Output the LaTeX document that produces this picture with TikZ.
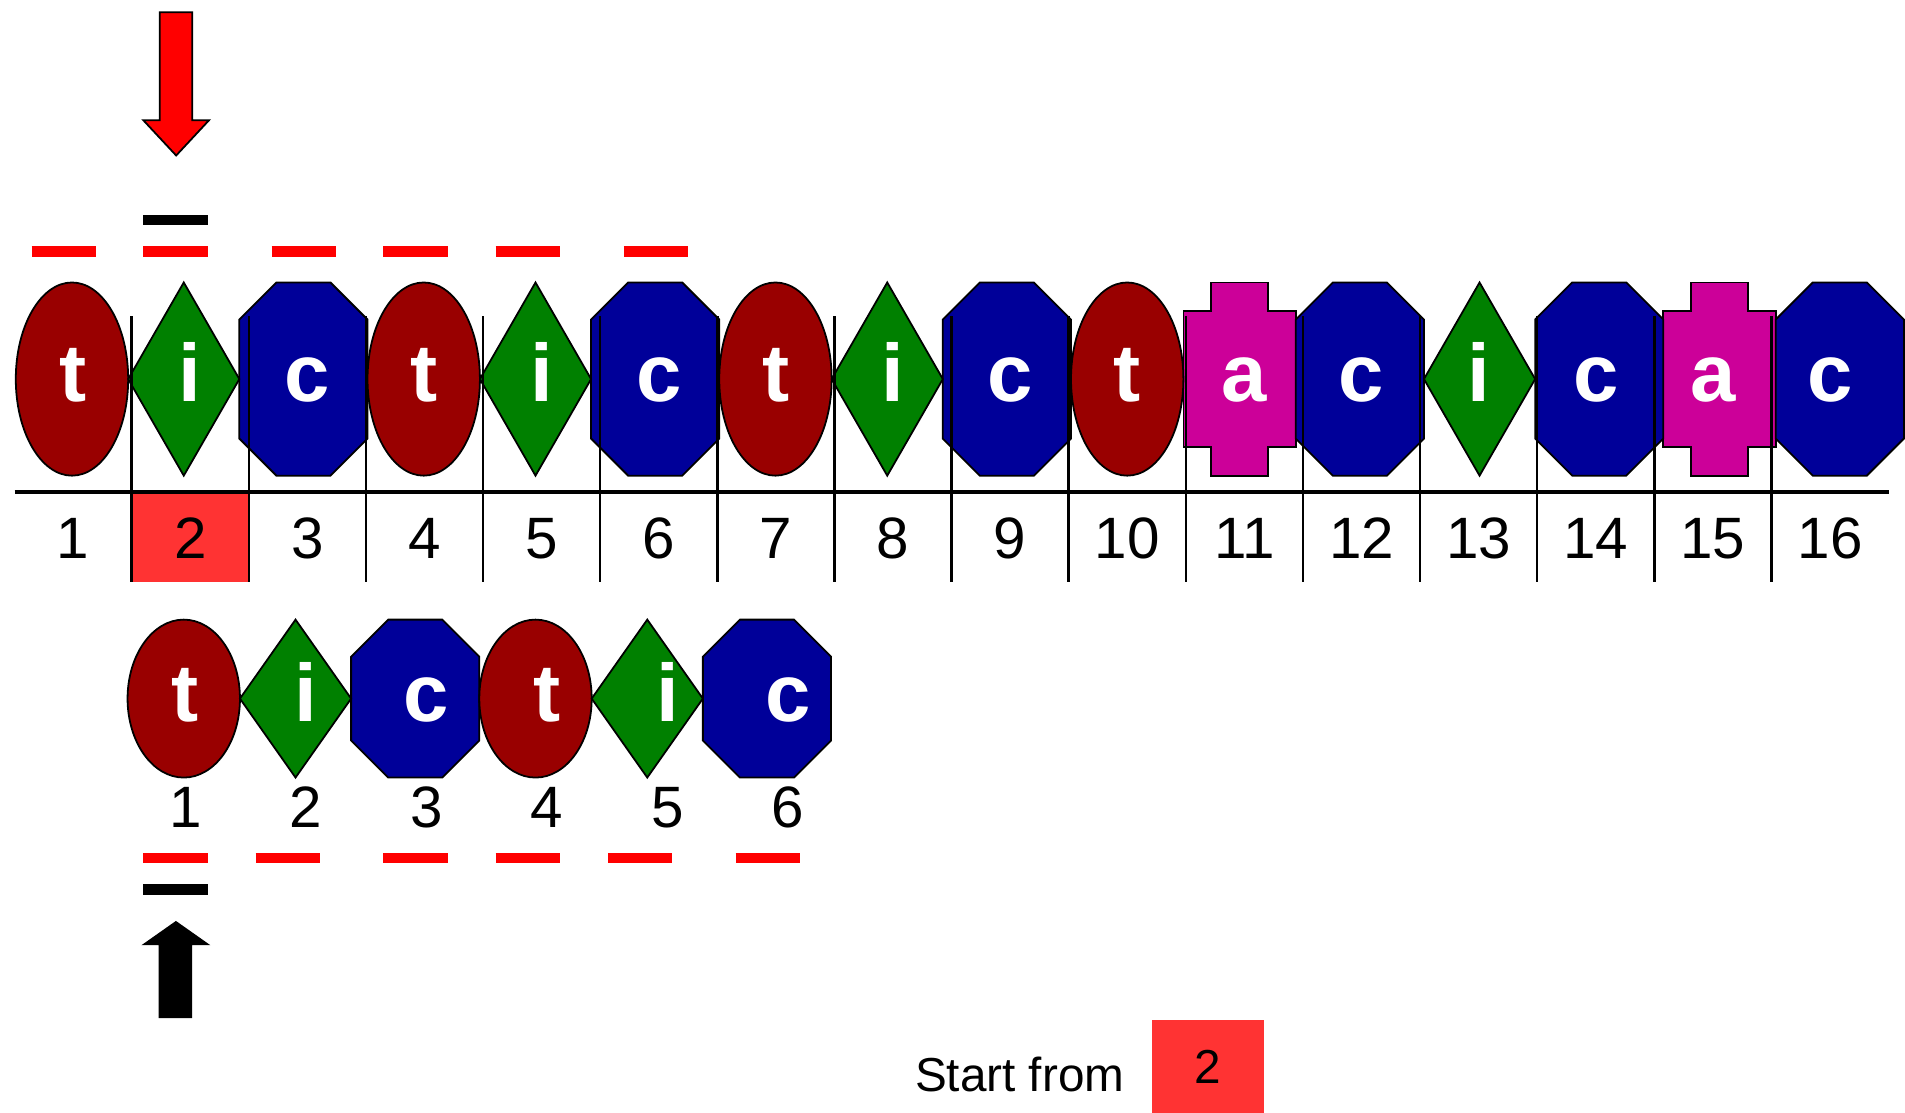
\documentclass[tikz,border=0pt]{standalone}
\usepackage{fontspec}
\setmainfont{Liberation Sans}
\usetikzlibrary{positioning,shapes.geometric,backgrounds}
\definecolor{tred}{RGB}{153,0,0}
\definecolor{igreen}{RGB}{0,128,0}
\definecolor{cblue}{RGB}{0,0,153}
\definecolor{amag}{RGB}{204,0,153}
\definecolor{cellred}{RGB}{255,51,51}

\begin{document}
\begin{tikzpicture}[x=0.12mm,y=-0.12mm,
   glyph/.style={draw,line width=0.5pt,inner sep=0pt,outer sep=0pt},
   tee/.style={glyph,ellipse,fill=tred,minimum width=11.1mm},
   eye/.style={glyph,diamond,fill=igreen,minimum width=10.98mm},
   cee/.style={glyph,draw=none,rectangle,minimum width=12.66mm},
   ay/.style={glyph,draw=none,rectangle,minimum width=11.1mm,minimum height=13.46mm},
   octc/.style={draw,line width=0.5pt,fill=cblue},
   crossa/.style={draw,line width=0.5pt,fill=amag},
   ltr/.style={inner sep=0pt,text=white,font=\fontsize{22.9}{24}\selectfont\bfseries,
               text height=12.8pt,text depth=0pt},
   cell/.style={rectangle,inner sep=0pt,outer sep=0pt,minimum width=11.568mm,minimum height=8.88mm,
                font=\fontsize{16.4}{18}\selectfont,text height=11.8pt,text depth=0pt},
   numlbl/.style={inner sep=0pt,font=\fontsize{16.4}{18}\selectfont},
   reddash/.style={draw=red,line width=1.02mm},
   blackdash/.style={draw=black,line width=1.02mm}]
  \useasboundingbox (0,0) rectangle (1568,916);

  % number strip
  \coordinate (n0) at (12,442);
  \foreach \k [remember=\k as \j (initially 0)] in {1,...,16}
    \node[cell,right=0pt of n\j] (n\k) {\k};
  \fill[cellred] (n2.north west) rectangle (n2.south east);
  \node[cell] at (n2) {2};

  % sequence
  \coordinate (s0) at (13,312);
  \foreach \shp [count=\k,remember=\k as \j (initially 0)] in
     {tee,eye,cee,tee,eye,cee,tee,eye,cee,tee,ay,cee,eye,cee,ay,cee}
    \node[minimum height=19.08mm,\shp,right=0pt of s\j] (s\k) {};

  % pattern
  \coordinate (b0) at (105,575);
  \foreach \shp [count=\k,remember=\k as \j (initially 0)] in {tee,eye,cee,tee,eye,cee}
    \node[minimum height=15.6mm,\shp,right=0pt of b\j] (b\k) {};

  \begin{scope}[on background layer]
    \foreach \k in {11,15}
      \draw[crossa] (s\k.north west) -- ++(22.75,0) -- ++(0,-23.4) -- ++(47,0) -- ++(0,23.4)
        -- (s\k.north east) -- (s\k.south east) -- ++(-22.75,0) -- ++(0,23.4) -- ++(-47,0)
        -- ++(0,-23.4) -- (s\k.south west) -- cycle;
    \foreach \o in {s3,s6,s9,s12,s14,s16,b3,b6}
      \draw[octc] ([xshift=3.66mm]\o.north west) -- ([xshift=-3.66mm]\o.north east)
        -- ([yshift=-3.66mm]\o.north east) -- ([yshift=3.66mm]\o.south east)
        -- ([xshift=-3.66mm]\o.south east) -- ([xshift=3.66mm]\o.south west)
        -- ([yshift=3.66mm]\o.south west) -- ([yshift=-3.66mm]\o.north west) -- cycle;
  \end{scope}

  \foreach \ltr [count=\k] in {t,i,c,t,i,c,t,i,c,t,a,c,i,c,a,c}
    \node[ltr] (l\k) at (n\k |- s\k) {\ltr};
  \foreach \ltr [count=\k] in {t,i,c,t,i,c} {
    \node[numlbl,anchor=base] (m\k) at ({152.5+99.2*(\k-1)},681) {\k};
    \node[ltr] (lb\k) at (m\k |- b\k) {\ltr};
  }

  \draw[line width=0.9pt] (n1.north west) -- (n16.north east);
  \foreach \k in {1,...,15}
    \draw[line width=0.7pt] (n\k.south east) -- ++(0,-219);

  % marks
  \foreach \x in {52.5,144.5,250,342,434.5,540}
    \draw[reddash] ({\x-26.5},207) -- ({\x+26.5},207);
  \foreach \x in {144.5,237,342,434.5,527,632}
    \draw[reddash] ({\x-26.5},706) -- ({\x+26.5},706);
  \draw[blackdash] (118,181) -- (171,181);
  \draw[blackdash] (118,732) -- (171,732);

  \draw[fill=red,line width=0.5pt] (131.5,10) -- (158.3,10) -- (158.3,99) -- (172,99) -- (145,128)
    -- (118,99) -- (131.5,99) -- cycle;
  \fill (130.6,838) -- (158.2,838) -- (158.2,778) -- (173.2,778) -- (144.8,758) -- (116.4,778)
    -- (130.6,778) -- cycle;

  \node[fill=cellred,inner sep=0pt,minimum width=11.04mm,minimum height=9.18mm,
        font=\fontsize{13.4}{16}\selectfont] (sbox) at (994,878) {2};
  \node[anchor=base east,inner sep=0pt,font=\fontsize{13.4}{16}\selectfont] (slbl) at (926,898) {Start from};
\end{tikzpicture}
\end{document}
